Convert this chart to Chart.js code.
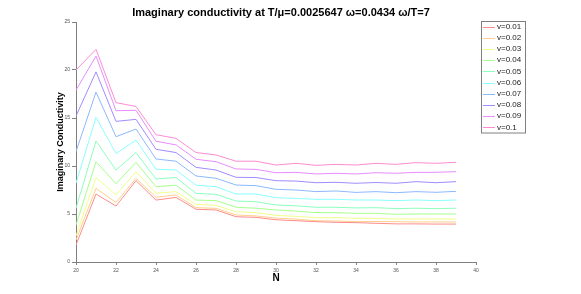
<!DOCTYPE html>
<html>
<head>
<meta charset="utf-8">
<script src="https://cdn.jsdelivr.net/npm/chart.js@4"></script>
<style>
  html, body { margin: 0; padding: 0; background: #fff; }
  #wrap { width: 581px; height: 294px; }
</style>
</head>
<body>
<div id="wrap"><canvas id="c" width="581" height="294"></canvas></div>
<script>
const titleText = 'Imaginary conductivity at T/\u03bc=0.0025647 \u03c9=0.0434 \u03c9/T=7';
const xLabel = 'N';
const yLabel = 'Imaginary Conductivity';
const N = [20,21,22,23,24,25,26,27,28,29,30,31,32,33,34,35,36,37,38,39];
const seriesLabels = ['v=0.01','v=0.02','v=0.03','v=0.04','v=0.05','v=0.06','v=0.07','v=0.08','v=0.09','v=0.1'];
const v001 = [1.77,7.08,5.83,8.47,6.45,6.73,5.49,5.42,4.72,4.65,4.40,4.30,4.20,4.13,4.10,4.03,3.97,3.97,3.95,3.95];
const v002 = [2.30,7.67,6.20,8.70,6.74,6.98,5.66,5.59,4.90,4.80,4.57,4.46,4.30,4.27,4.20,4.22,4.20,4.17,4.17,4.17];
const v003 = [2.70,8.80,6.98,9.40,7.16,7.33,6.00,5.90,5.24,5.14,4.86,4.75,4.62,4.62,4.55,4.55,4.48,4.48,4.48,4.48];
const v004 = [3.85,10.45,8.16,10.38,7.85,8.00,6.45,6.40,5.70,5.60,5.42,5.30,5.14,5.14,5.07,5.07,4.97,5.00,5.00,5.00];
const v005 = [5.60,12.60,9.58,11.40,8.65,8.80,7.15,7.05,6.35,6.28,5.94,5.85,5.70,5.70,5.63,5.66,5.56,5.60,5.56,5.60];
const v006 = [8.20,15.07,11.30,12.70,9.66,9.58,8.00,7.85,7.08,7.08,6.70,6.62,6.53,6.53,6.46,6.46,6.39,6.46,6.39,6.46];
const v007 = [11.50,17.70,13.05,13.85,10.73,10.50,8.96,8.72,8.02,7.95,7.57,7.50,7.33,7.40,7.25,7.33,7.22,7.33,7.26,7.36];
const v008 = [15.20,19.80,14.65,14.86,11.74,11.40,9.86,9.58,8.82,8.80,8.47,8.43,8.26,8.30,8.20,8.28,8.20,8.37,8.26,8.37];
const v009 = [17.90,21.45,15.76,15.80,12.57,12.20,10.70,10.45,9.69,9.65,9.30,9.34,9.17,9.24,9.17,9.30,9.24,9.34,9.34,9.41];
const v010 = [20.00,22.15,16.60,16.20,13.26,12.88,11.40,11.15,10.50,10.50,10.10,10.28,10.07,10.17,10.10,10.28,10.17,10.35,10.28,10.38];
const seriesValues = [v001,v002,v003,v004,v005,v006,v007,v008,v009,v010];
const seriesColors = ['#ff8c8c','#ffcf8c','#f0ff8c','#a6ff8c','#8cffbf','#8cffff','#8cb8ff','#a08cff','#e88cff','#ff8cd0'];
const xTicksStep = 2;
const yTicksStep = 5;

const datasets = seriesValues.map((vals, i) => ({
  label: seriesLabels[i],
  data: N.map((n, j) => ({x: n, y: vals[j]})),
  borderColor: seriesColors[i],
  backgroundColor: seriesColors[i],
  borderWidth: 1,
  pointRadius: 0,
  fill: false,
  tension: 0
}));

const deco = {
  id: 'deco',
  afterDraw(chart) {
    const ctx = chart.ctx;
    ctx.save();
    // title
    ctx.fillStyle = '#000';
    ctx.font = 'bold 11px "Liberation Sans", Arial, sans-serif';
    ctx.textAlign = 'center';
    ctx.textBaseline = 'middle';
    ctx.fillText(titleText, 281, 13);
    // legend
    const bx = 481.5, by = 21.5, bw = 44, bh = 111.5;
    ctx.fillStyle = '#fff';
    ctx.fillRect(bx, by, bw, bh);
    ctx.strokeStyle = '#808080';
    ctx.lineWidth = 1;
    ctx.strokeRect(bx, by, bw, bh);
    ctx.font = '8px "Liberation Sans", Arial, sans-serif';
    ctx.textAlign = 'left';
    ctx.textBaseline = 'middle';
    chart.data.datasets.forEach((ds, i) => {
      const y = 26.5 + i * 11.2;
      ctx.fillStyle = seriesColors[i];
      ctx.fillRect(483, Math.round(y), 12, 1);
      ctx.fillStyle = '#222';
      ctx.fillText(ds.label, 497, y);
    });
    ctx.restore();
  }
};

new Chart(document.getElementById('c'), {
  type: 'line',
  data: { datasets },
  plugins: [deco],
  options: {
    responsive: false,
    animation: false,
    devicePixelRatio: 1,
    layout: { padding: { top: 22, right: 105, left: 0, bottom: 0 } },
    plugins: {
      legend: { display: false },
      title: { display: false },
      tooltip: { enabled: false }
    },
    scales: {
      x: {
        type: 'linear',
        min: 20, max: 40,
        border: { display: true, color: '#808080', width: 1 },
        grid: { drawOnChartArea: false, drawTicks: true, tickLength: 3, color: '#808080' },
        ticks: { stepSize: xTicksStep, color: '#555', font: { size: 5, family: '"Liberation Sans", Arial' }, padding: 3, maxRotation: 0 },
        title: { display: true, text: xLabel, color: '#000', font: { size: 10, weight: 'bold', family: '"Liberation Sans", Arial' }, padding: { top: 10, bottom: 10 } },
        afterFit(s) { s.height = 32; }
      },
      y: {
        min: 0, max: 25,
        border: { display: true, color: '#808080', width: 1 },
        grid: { drawOnChartArea: false, drawTicks: true, tickLength: 4, color: '#808080' },
        ticks: { stepSize: yTicksStep, color: '#555', font: { size: 5, family: '"Liberation Sans", Arial' }, padding: 2 },
        title: { display: true, text: yLabel, color: '#000', font: { size: 9, weight: 'bold', family: '"Liberation Sans", Arial' }, padding: { top: 55.3, bottom: 55.3 } },
        afterFit(s) { s.width = 76; }
      }
    }
  }
});
</script>
</body>
</html>
